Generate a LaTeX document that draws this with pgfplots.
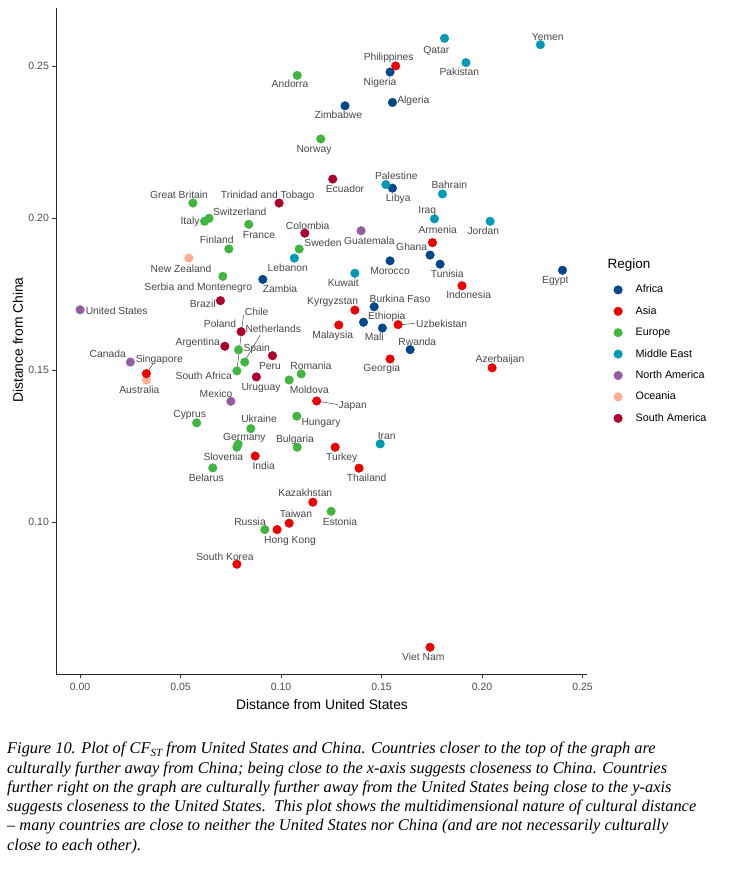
\documentclass[border=0pt]{standalone}
\usepackage{fontspec}
\setmainfont{Liberation Sans}
\newfontfamily\capfont{Liberation Serif}
\usepackage{pgfplots}
\pgfplotsset{compat=1.18}
\definecolor{africa}{HTML}{00468B}
\definecolor{asia}{HTML}{ED0000}
\definecolor{europe}{HTML}{42B540}
\definecolor{mideast}{HTML}{0099B4}
\definecolor{namerica}{HTML}{925E9F}
\definecolor{oceania}{HTML}{FDAF91}
\definecolor{samerica}{HTML}{AD002A}
\definecolor{labgray}{HTML}{474747}
\definecolor{tickgray}{HTML}{4D4D4D}
\newcommand\lab[3]{\node[anchor=base, inner sep=0pt, text=labgray, font=\fontsize{10.3}{12}\selectfont] at ({#1},{869.3-#2}) {#3};}
\newcommand\legimg[1]{\addlegendimage{legend image code/.code={\fill[#1] (0pt,0pt) circle (4.3pt);}}}
\newcommand\capline[2]{\node[anchor=base west, inner sep=0pt, font=\capfont\itshape\fontsize{16.4}{19}\selectfont] at (7,{873-#1}) {#2};}
\begin{document}
\begin{tikzpicture}[x=1pt,y=1pt]
\useasboundingbox (0,0) rectangle (754,873);
\begin{axis}[
  at={(56pt,199pt)}, anchor=south west,
  scale only axis, width=530.6pt, height=665.8pt,
  xmin=-0.012, xmax=0.252, ymin=0.050, ymax=0.269,
  axis x line=bottom, axis y line=left,
  axis line style={-, black!85, line width=0.7pt},
  xtick={0,0.05,0.1,0.15,0.2,0.25},
  ytick={0.1,0.15,0.2,0.25},
  scaled ticks=false,
  tick align=outside, major tick length=3.6pt,
  tick style={black!80, line width=0.6pt},
  /pgf/number format/.cd, fixed, fixed zerofill, precision=2, assume math mode=true,
  /pgfplots/.cd,
  tick label style={font=\fontsize{10.5}{12}\selectfont, text=tickgray},
  xticklabel style={yshift=-2pt},
  clip=false,
  legend style={at={(1.0505,0.5847)}, anchor=north west, draw=none, fill=none, inner sep=0pt,
     row sep=11.4pt, font=\fontsize{10.8}{13}\selectfont,
     nodes={inner sep=0pt, text height=8pt, text depth=2pt},
     /tikz/every odd column/.append style={column sep=13pt}},
  legend cell align=left,
  every axis plot/.append style={only marks, mark=*, mark size=4.3pt, forget plot},
]
% Oceania
\addplot[mark options={fill=oceania, draw=oceania}] coordinates {
(0.0541,0.1868) (0.033,0.1467)};
% Africa
\addplot[mark options={fill=africa, draw=africa}] coordinates {
(0.1542,0.248) (0.1554,0.238) (0.1318,0.2369) (0.1554,0.2098) (0.0909,0.1798)
(0.1542,0.1859) (0.1741,0.1878) (0.1791,0.1848) (0.240,0.1828) (0.1463,0.1708)
(0.141,0.1657) (0.1504,0.1638) (0.1642,0.1567)};
% Asia
\addplot[mark options={fill=asia, draw=asia}] coordinates {
(0.157,0.250) (0.1753,0.1919) (0.190,0.1777) (0.1367,0.1697) (0.1287,0.1648)
(0.1582,0.1649) (0.1542,0.1536) (0.205,0.1507) (0.033,0.1488) (0.1177,0.1398)
(0.0871,0.1217) (0.1269,0.1246) (0.1388,0.1177) (0.1158,0.1065) (0.104,0.0996)
(0.098,0.0975) (0.078,0.0861) (0.1741,0.0588)};
% Europe
\addplot[mark options={fill=europe, draw=europe}] coordinates {
(0.108,0.2469) (0.1197,0.226) (0.0561,0.2049) (0.0619,0.1989) (0.0642,0.1999)
(0.0839,0.1979) (0.074,0.1898) (0.109,0.1898) (0.071,0.1808) (0.0788,0.1566)
(0.0819,0.1526) (0.078,0.1497) (0.11,0.1487) (0.104,0.1467) (0.1078,0.1348)
(0.058,0.1326) (0.0849,0.1307) (0.0786,0.1256) (0.078,0.1246) (0.108,0.1246)
(0.066,0.1178) (0.1249,0.1035) (0.0919,0.0975)};
% Middle East
\addplot[mark options={fill=mideast, draw=mideast}] coordinates {
(0.1813,0.2591) (0.229,0.257) (0.192,0.2511) (0.1521,0.2110) (0.1803,0.2079)
(0.1763,0.1997) (0.204,0.1989) (0.1066,0.1868) (0.1367,0.1818) (0.1493,0.1257)};
% North America
\addplot[mark options={fill=namerica, draw=namerica}] coordinates {
(0.0,0.1698) (0.025,0.1526) (0.075,0.1397) (0.1398,0.1958)};
% South America
\addplot[mark options={fill=samerica, draw=samerica}] coordinates {
(0.1257,0.2128) (0.099,0.2049) (0.1118,0.195) (0.0698,0.1728) (0.0801,0.1626)
(0.072,0.1578) (0.0957,0.1547) (0.0877,0.1477)};
% label segments
\addplot[no marks, sharp plot, labgray, line width=0.5pt] coordinates {(0.0813,0.1681) (0.0781,0.1503)};
\addplot[no marks, sharp plot, labgray, line width=0.5pt] coordinates {(0.0896,0.1615) (0.0817,0.1527)};
\addplot[no marks, sharp plot, labgray, line width=0.5pt] coordinates {(0.1600,0.1649) (0.1667,0.1654)};
\addplot[no marks, sharp plot, labgray, line width=0.5pt] coordinates {(0.1194,0.1396) (0.1282,0.1386)};
\addplot[no marks, sharp plot, labgray, line width=0.5pt] coordinates {(0.0362,0.1520) (0.0333,0.1491)};
\legimg{africa}\addlegendentry{Africa}
\legimg{asia}\addlegendentry{Asia}
\legimg{europe}\addlegendentry{Europe}
\legimg{mideast}\addlegendentry{Middle East}
\legimg{namerica}\addlegendentry{North America}
\legimg{oceania}\addlegendentry{Oceania}
\legimg{samerica}\addlegendentry{South America}
\end{axis}
% axis titles
\node[font=\fontsize{13.8}{16}\selectfont] at (322,{873-705}) {Distance from United States};
\node[font=\fontsize{13.8}{16}\selectfont, rotate=90] at (18,{873-340}) {Distance from China};
\node[anchor=base west, inner sep=0pt, font=\fontsize{13.5}{16}\selectfont] at (607.3,{873-269}) {Region};
% point labels
\lab{388.7}{57.3}{Philippines}
\lab{380}{81.7}{Nigeria}
\lab{413.3}{99.7}{Algeria}
\lab{436.3}{49.7}{Qatar}
\lab{459.3}{72.3}{Pakistan}
\lab{547.7}{36.7}{Yemen}
\lab{290}{84.3}{Andorra}
\lab{338.3}{115.3}{Zimbabwe}
\lab{314}{148.7}{Norway}
\lab{345}{188.7}{Ecuador}
\lab{396.3}{176}{Palestine}
\lab{398.3}{198}{Libya}
\lab{449.3}{185}{Bahrain}
\lab{427.3}{210.3}{Iraq}
\lab{437.7}{230}{Armenia}
\lab{483.3}{231}{Jordan}
\lab{179}{195.3}{Great Britain}
\lab{267.7}{195.3}{Trinidad and Tobago}
\lab{239.7}{212}{Switzerland}
\lab{190}{221}{Italy}
\lab{259}{234.7}{France}
\lab{307.7}{226}{Colombia}
\lab{369.3}{241}{Guatemala}
\lab{216.7}{240.3}{Finland}
\lab{323}{243}{Sweden}
\lab{287.7}{268.3}{Lebanon}
\lab{181}{269}{New Zealand}
\lab{198.3}{287}{Serbia and Montenegro}
\lab{280}{288.7}{Zambia}
\lab{343.3}{283}{Kuwait}
\lab{202.7}{304.3}{Brazil}
\lab{116.7}{311}{United States}
\lab{332.7}{301}{Kyrgyzstan}
\lab{332.7}{335}{Malaysia}
\lab{256.7}{312}{Chile}
\lab{220}{324}{Poland}
\lab{273.3}{329.3}{Netherlands}
\lab{197.7}{342.3}{Argentina}
\lab{411.7}{247.3}{Ghana}
\lab{390}{271}{Morocco}
\lab{447.3}{274}{Tunisia}
\lab{468.7}{295}{Indonesia}
\lab{555.3}{280}{Egypt}
\lab{400}{299.3}{Burkina Faso}
\lab{386.7}{316}{Ethiopia}
\lab{374.3}{337.3}{Mali}
\lab{441.7}{324}{Uzbekistan}
\lab{417.3}{341.7}{Rwanda}
\lab{381.7}{368.3}{Georgia}
\lab{500}{359}{Azerbaijan}
\lab{352.7}{405}{Japan}
\lab{256.7}{348}{Spain}
\lab{270}{365.7}{Peru}
\lab{311}{365.7}{Romania}
\lab{107.7}{354.3}{Canada}
\lab{159.3}{359.3}{Singapore}
\lab{203.7}{376}{South Africa}
\lab{261}{387.3}{Uruguay}
\lab{309.3}{390}{Moldova}
\lab{139.3}{389.7}{Australia}
\lab{216}{393.7}{Mexico}
\lab{189.7}{414}{Cyprus}
\lab{259}{419}{Ukraine}
\lab{321}{422}{Hungary}
\lab{244.3}{437.3}{Germany}
\lab{295}{439.3}{Bulgaria}
\lab{386.7}{436}{Iran}
\lab{223.3}{457}{Slovenia}
\lab{341.7}{457}{Turkey}
\lab{263.7}{466.3}{India}
\lab{206.3}{477.7}{Belarus}
\lab{366.7}{477.7}{Thailand}
\lab{305.3}{493.3}{Kazakhstan}
\lab{296}{514}{Taiwan}
\lab{340}{521.7}{Estonia}
\lab{250}{522}{Russia}
\lab{290}{539.7}{Hong Kong}
\lab{225}{556.7}{South Korea}
\lab{423.3}{657}{Viet Nam}
% caption
\capline{754}{Figure 10. Plot of CF\raisebox{-0.35ex}{\fontsize{11}{11}\selectfont ST} from United States and China. Countries closer to the top of the graph are}
\capline{773.3}{culturally further away from China; being close to the x-axis suggests closeness to China. Countries}
\capline{792.3}{further right on the graph are culturally further away from the United States being close to the y-axis}
\capline{811.3}{suggests closeness to the United States.\ \ This plot shows the multidimensional nature of cultural distance}
\capline{830.7}{– many countries are close to neither the United States nor China (and are not necessarily culturally}
\capline{850}{close to each other).}
\end{tikzpicture}
\end{document}
